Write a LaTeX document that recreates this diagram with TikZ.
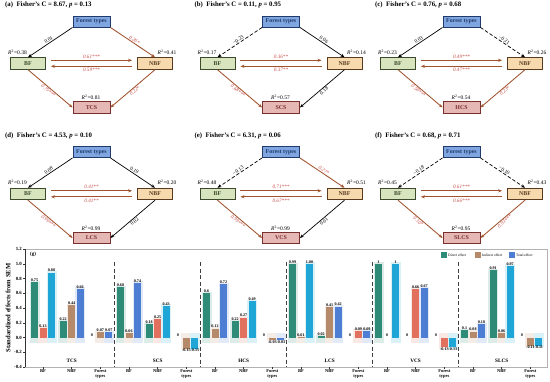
\documentclass[tikz,border=0pt]{standalone}
\usepackage{fontspec}
\setmainfont{Liberation Serif}
\usetikzlibrary{arrows.meta,calc}
\pgfdeclarelayer{back}
\pgfdeclarelayer{glow}
\pgfsetlayers{back,glow,main}
\definecolor{ftfill}{HTML}{7FA6E0}
\definecolor{ftdraw}{HTML}{1F3A6B}
\definecolor{bffill}{HTML}{D7E4BD}
\definecolor{bfdraw}{HTML}{3B4A2B}
\definecolor{nbffill}{HTML}{F7D9AE}
\definecolor{nbfdraw}{HTML}{5B3B1F}
\definecolor{resfill}{HTML}{E5B8B5}
\definecolor{resdraw}{HTML}{7A2F2F}
\definecolor{sigc}{HTML}{A0522D}
\definecolor{siglab}{HTML}{C8504D}
\definecolor{teal1}{HTML}{2E8B78}
\definecolor{tan1}{HTML}{B48A6B}
\definecolor{salm}{HTML}{E2705F}
\definecolor{blue1}{HTML}{4D7ED4}
\definecolor{cyan1}{HTML}{1FA6D6}
\newcommand\myfs[1]{\fontsize{#1pt}{#1pt}\selectfont}
\newcommand\rsq[1]{\textit{R}\textsuperscript{2}=#1}
\tikzset{
  boxbase/.style={draw, line width=0.9pt, minimum height=11.5pt, inner sep=0pt, font=\myfs{5.9}\bfseries},
  ftbox/.style={boxbase, draw=ftdraw, fill=ftfill, minimum width=37pt, minimum height=11pt, text=ftdraw},
  bfbox/.style={boxbase, draw=bfdraw, fill=bffill, minimum width=35pt, text=bfdraw},
  nbfbox/.style={boxbase, draw=nbfdraw, fill=nbffill, minimum width=35pt, text=nbfdraw},
  resbox/.style={boxbase, draw=resdraw, fill=resfill, minimum width=37pt, text=resdraw},
  sigarr/.style={draw=sigc, line width=0.85pt, -{Stealth[length=4pt,width=3.2pt]}},
  nsarr/.style={draw=black, line width=0.7pt, -{Stealth[length=4pt,width=3.2pt]}},
  negarr/.style={dash pattern=on 3.5pt off 2pt},
  slab/.style={text=siglab, font=\myfs{5.2}\itshape, inner sep=0.8pt},
  nlab/.style={text=black, font=\myfs{5.2}, inner sep=0.8pt},
  r2lab/.style={font=\myfs{5.5}, inner sep=0pt},
  ttl/.style={font=\myfs{6.8}\bfseries, anchor=west, inner sep=0pt},
  vlab/.style={font=\myfs{4.1}\bfseries, inner sep=0.4pt},
  ticklab/.style={font=\myfs{4.8}\bfseries, inner sep=0.5pt},
  xlab/.style={font=\myfs{4.5}\bfseries, inner sep=0.3pt, align=center},
  grp/.style={font=\myfs{5.2}\bfseries},
  divline/.style={draw=black!75, line width=1pt, dash pattern=on 4pt off 2.5pt},
  leglab/.style={font=\myfs{3.6}, anchor=west, inner sep=0.5pt}
}
\newcommand\sempanel[9]{%
  \begin{scope}[shift={#2}]
    \node[ttl] (#1t) at (5,5) {#3};
    \node[ftbox] (#1F) at (91.5,21.5) {Forest types};
    \node[bfbox] (#1B) at (28,63.5) {BF};
    \node[nbfbox] (#1N) at (155,63.5) {NBF};
    \node[resbox] (#1R) at (91.5,107.5) {#4};
    \node[r2lab] (#1rb) at (17.5,52) {\rsq{#5}};
    \node[r2lab] (#1rn) at (167,52) {\rsq{#6}};
    \node[r2lab] (#1rr) at (91,97.5) {\rsq{#7}};
  \end{scope}
  \draw[sigarr] ($(#1B.east)+(5,-3.2)$) -- node[slab,above=0.8pt] {#8} ($(#1N.west)+(-5,-3.2)$);
  \draw[sigarr] ($(#1N.west)+(-5,2.8)$) -- node[slab,below=0.8pt] {#9} ($(#1B.east)+(5,2.8)$);
}
\newcommand\onebar[4]{%
  \pgfmathsetmacro\bx{#1}%
  \pgfmathsetmacro\by{337.5-73.75*(#2)}%
  \ifdim #2pt=0pt
    \node[vlab,anchor=south] at (\bx,337.5) {#4};
  \else
    \ifdim #2pt<0pt
      \begin{pgfonlayer}{glow}\fill[#3!16] (\bx-5,333) rectangle (\bx+5,\by+1.5);\end{pgfonlayer}
      \fill[#3] (\bx-3.5,337.5) rectangle (\bx+3.5,\by);
      \node[vlab,anchor=north] at (\bx,\by) {#4};
    \else
      \begin{pgfonlayer}{glow}\fill[#3!16] (\bx-5,\by-1.5) rectangle (\bx+5,342.5);\end{pgfonlayer}
      \fill[#3] (\bx-3.5,337.5) rectangle (\bx+3.5,\by);
      \node[vlab,anchor=south] at (\bx,\by) {#4};
    \fi
  \fi
}
\newcommand\catbars[6]{%
  \pgfmathsetmacro\cx{43+28.667*#1}%
  \edef\cxx{\cx}%
  \onebar{\cxx-8.5}{#2}{teal1}{#2}%
  \onebar{\cxx}{#3}{#4}{#3}%
  \onebar{\cxx+8.5}{#5}{#6}{#5}%
}
\begin{document}
\begin{tikzpicture}[x=1pt,y=-1pt]
\begin{pgfonlayer}{back}\fill[white] (0,0) rectangle (550,381);\end{pgfonlayer}
\useasboundingbox (0,0) rectangle (550,381);

% ---------- SEM panels ----------
\sempanel{a}{(0,0)}{(a)\enspace Fisher's C = 8.67, \textit{p} = 0.13}{TCS}{0.38}{0.41}{0.81}{0.61***}{0.59***}
\draw[nsarr] (aF.south west) -- node[nlab,sloped,above] {0.01} (aB.north);
\draw[sigarr] (aF.south east) -- node[slab,sloped,above] {0.26*} (aN.north);
\draw[sigarr] (aB.south) -- node[slab,sloped,below] {0.75***} (aR.west);
\draw[sigarr] (aN.south) -- node[slab,sloped,below] {0.22*} (aR.east);

\sempanel{b}{(189.5,0)}{(b)\enspace Fisher's C = 0.11, \textit{p} = 0.95}{SCS}{0.17}{0.14}{0.57}{0.36**}{0.37**}
\draw[nsarr,negarr] (bF.south west) -- node[nlab,sloped,above] {−0.23} (bB.north);
\draw[nsarr] (bF.south east) -- node[nlab,sloped,above] {0.06} (bN.north);
\draw[sigarr] (bB.south) -- node[slab,sloped,below] {0.68***} (bR.west);
\draw[nsarr] (bN.south) -- node[nlab,sloped,below] {0.18} (bR.east);

\sempanel{c}{(370,0)}{(c)\enspace Fisher's C = 0.76, \textit{p} = 0.68}{HCS}{0.23}{0.26}{0.54}{0.49***}{0.47***}
\draw[nsarr] (cF.south west) -- node[nlab,sloped,above] {0.03} (cB.north);
\draw[nsarr,negarr] (cF.south east) -- node[nlab,sloped,above] {−0.21} (cN.north);
\draw[sigarr] (cB.south) -- node[slab,sloped,below] {0.58***} (cR.west);
\draw[sigarr] (cN.south) -- node[slab,sloped,below] {0.23*} (cR.east);

\sempanel{d}{(0,130.5)}{(d)\enspace Fisher's C = 4.53, \textit{p} = 0.10}{LCS}{0.19}{0.20}{0.99}{0.41**}{0.41**}
\draw[nsarr] (dF.south west) -- node[nlab,sloped,above] {0.08} (dB.north);
\draw[nsarr] (dF.south east) -- node[nlab,sloped,above] {0.19} (dN.north);
\draw[sigarr] (dB.south) -- node[slab,sloped,below] {0.99***} (dR.west);
\draw[nsarr] (dN.south) -- node[nlab,sloped,below] {0.02} (dR.east);

\sempanel{e}{(189.5,130.5)}{(e)\enspace Fisher's C = 6.31, \textit{p} = 0.06}{VCS}{0.48}{0.51}{0.99}{0.71***}{0.67***}
\draw[nsarr,negarr] (eF.south west) -- node[nlab,sloped,above] {−0.13} (eB.north);
\draw[sigarr] (eF.south east) -- node[slab,sloped,above] {0.27*} (eN.north);
\draw[sigarr] (eB.south) -- node[slab,sloped,below] {0.99***} (eR.west);
\draw[nsarr] (eN.south) -- node[nlab,sloped,below] {0.01} (eR.east);

\sempanel{f}{(370,130.5)}{(f)\enspace Fisher's C = 0.68, \textit{p} = 0.71}{SLCS}{0.45}{0.43}{0.95}{0.61***}{0.66***}
\draw[nsarr,negarr] (fF.south west) -- node[nlab,sloped,above] {−0.18} (fB.north);
\draw[nsarr,negarr] (fF.south east) -- node[nlab,sloped,above] {−0.10} (fN.north);
\draw[sigarr] (fB.south) -- node[slab,sloped,below] {0.10*} (fR.west);
\draw[sigarr] (fN.south) -- node[slab,sloped,below] {0.91***} (fR.east);

% ---------- bar chart (g) ----------
\draw[gray!60, line width=0.5pt] (25,249) rectangle (547,367);
\draw[black!80, line width=0.6pt] (25,249) -- (25,367);
\foreach \v/\t in {1.2/1.2,1.0/1.0,0.8/0.8,0.6/0.6,0.4/0.4,0.2/0.2,0/0.0,-0.2/-0.2,-0.4/-0.4}{
  \draw[black!80, line width=0.5pt] (25,{337.5-73.75*\v}) -- (23,{337.5-73.75*\v});
  \node[ticklab,anchor=east] at (22.5,{337.5-73.75*\v}) {\t};
}
\node[font=\myfs{6.6}\bfseries, rotate=90] (ylab) at (8,308) {Standardized effects from SEM};
\node[font=\myfs{5}\bfseries] (glab) at (33,254.5) {(g)};
\foreach \k in {1,...,5}{
  \draw[divline] ({28.667+86*\k},262) -- ({28.667+86*\k},367);
}
\foreach \s/\g in {0/TCS,1/SCS,2/HCS,3/LCS,4/VCS,5/SLCS}{
  \node[grp] at ({71.667+86*\s},361) {\g};
  \foreach \j/\lab in {0/BF,1/NBF,2/{Forest\\types}}{
    \draw[black!80, line width=0.4pt] ({43+86*\s+28.667*\j},367) -- ({43+86*\s+28.667*\j},369);
    \node[xlab,anchor=north] at ({43+86*\s+28.667*\j},369.3) {\lab};
  }
}
% legend
\fill[teal1] (441,252) rectangle (447,258);
\node[leglab] at (447.5,255) {Direct effect};
\fill[tan1] (475,252) rectangle (481,258);
\node[leglab] at (481.5,255) {Indirect effect};
\fill[blue1] (509,252) rectangle (515,258);
\node[leglab] at (515.5,255) {Total effect};

% bars: index, direct, indirect, indirect colour, total, total colour
\catbars{0}{0.75}{0.13}{salm}{0.88}{cyan1}
\catbars{1}{0.22}{0.44}{tan1}{0.66}{blue1}
\catbars{2}{0}{0.07}{tan1}{0.07}{blue1}
\catbars{3}{0.68}{0.06}{tan1}{0.74}{blue1}
\catbars{4}{0.18}{0.25}{salm}{0.43}{cyan1}
\catbars{5}{0}{-0.15}{tan1}{-0.15}{cyan1}
\catbars{6}{0.6}{0.12}{tan1}{0.72}{blue1}
\catbars{7}{0.22}{0.27}{salm}{0.49}{cyan1}
\catbars{8}{0}{-0.03}{tan1}{-0.03}{blue1}
\catbars{9}{0.99}{0.01}{tan1}{1.00}{cyan1}
\catbars{10}{0.02}{0.41}{tan1}{0.42}{blue1}
\catbars{11}{0}{0.09}{salm}{0.09}{blue1}
\catbars{12}{1}{0}{tan1}{1}{cyan1}
\catbars{13}{0}{0.66}{salm}{0.67}{blue1}
\catbars{14}{0}{-0.13}{salm}{-0.13}{cyan1}
\catbars{15}{0.1}{0.08}{tan1}{0.18}{blue1}
\catbars{16}{0.91}{0.06}{tan1}{0.97}{cyan1}
\catbars{17}{0}{-0.11}{tan1}{-0.11}{cyan1}
\end{tikzpicture}
\end{document}
